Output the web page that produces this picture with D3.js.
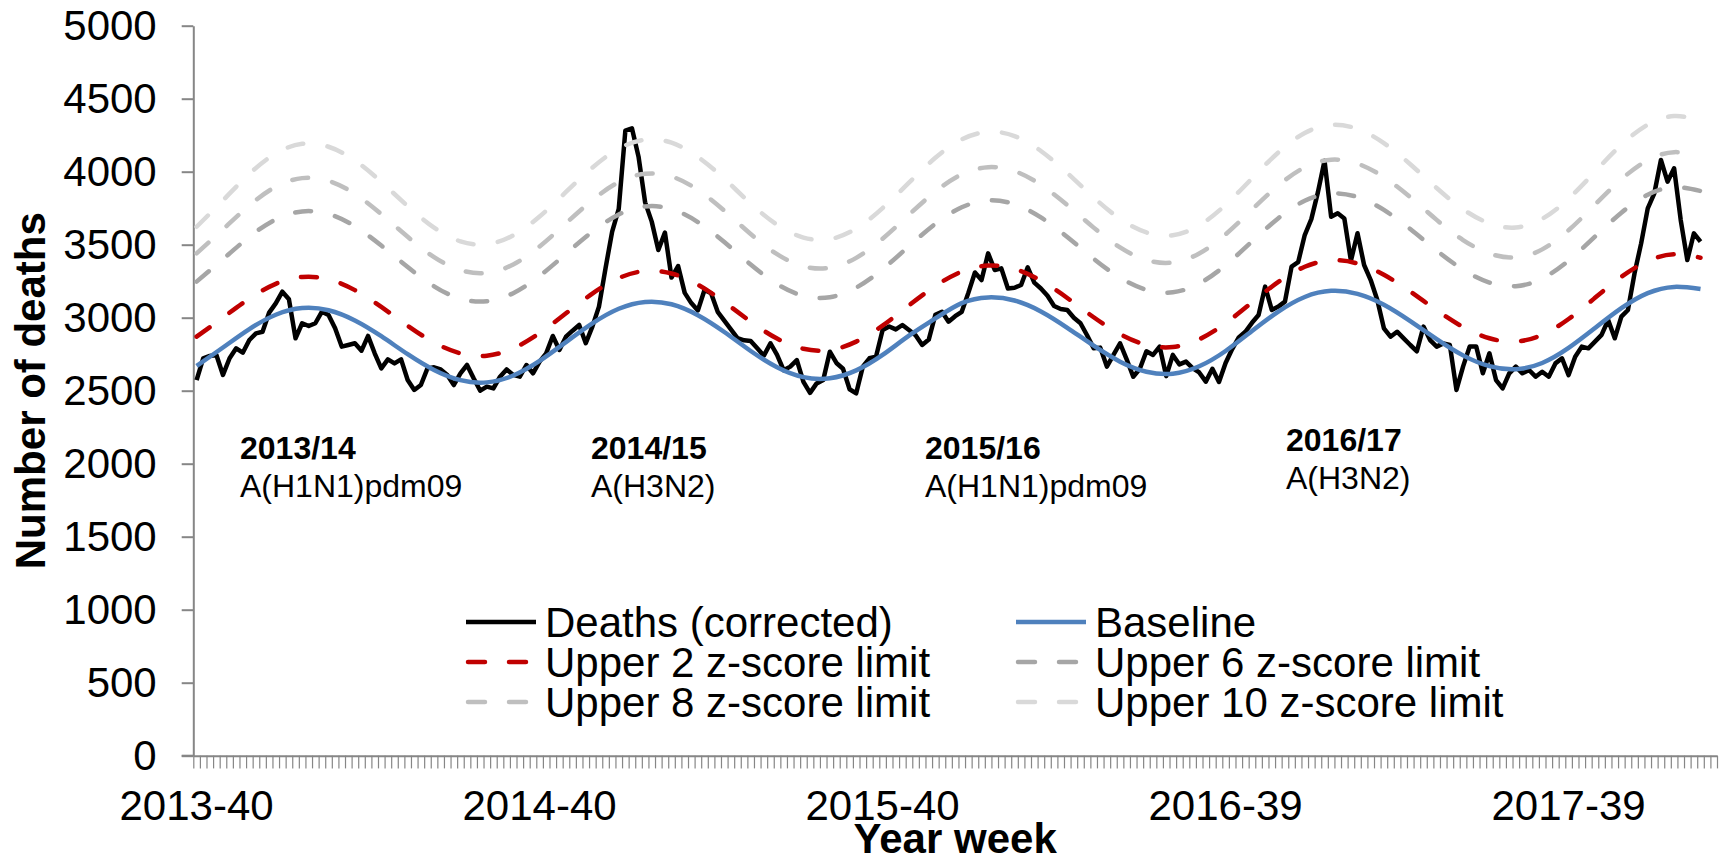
<!DOCTYPE html>
<html>
<head>
<meta charset="utf-8">
<script src="https://cdn.jsdelivr.net/npm/d3@7"></script>
<style>
  html, body { margin: 0; padding: 0; background: #fff; }
  svg { display: block; font-family: "Liberation Sans", Arial, sans-serif; }
</style>
</head>
<body>
<div class="root"></div>
<script>
// weekly deaths (corrected), first week = 2013-40
const deaths = [
  2573, 2722, 2738, 2745, 2608, 2722, 2790, 2760, 2847, 2893,
  2904, 3035, 3098, 3178, 3126, 2859, 2962, 2943, 2962, 3041,
  3018, 2927, 2802, 2813, 2825, 2774, 2875, 2756, 2653, 2715,
  2687, 2715, 2573, 2505, 2539, 2653, 2660, 2646, 2608, 2539,
  2619, 2676, 2585, 2500, 2528, 2516, 2596, 2646, 2608, 2596,
  2676, 2619, 2699, 2756, 2875, 2779, 2870, 2911, 2950, 2825,
  2939, 3076, 3340, 3590, 3745, 4281, 4297, 4103, 3790, 3658,
  3464, 3583, 3275, 3354, 3170, 3100, 3050, 3190, 3167, 3040,
  2980, 2920, 2860, 2845, 2840, 2790, 2740, 2825, 2745, 2640,
  2665, 2710, 2560, 2485, 2550, 2573, 2767, 2690, 2650, 2510,
  2482, 2665, 2722, 2733, 2916, 2940, 2920, 2950, 2916, 2880,
  2813, 2850, 3020, 3041, 2973, 3010, 3040, 3170, 3310, 3258,
  3441, 3327, 3338, 3200, 3205, 3224, 3345, 3240, 3200, 3150,
  3080, 3060, 3053, 3000, 2962, 2880, 2790, 2795, 2665, 2745,
  2825, 2715, 2596, 2650, 2770, 2745, 2802, 2600, 2745, 2680,
  2699, 2655, 2625, 2562, 2650, 2560, 2690, 2785, 2865, 2904,
  2965, 3018, 3213, 3053, 3076, 3110, 3350, 3380, 3566, 3675,
  3860, 4075, 3692, 3715, 3680, 3390, 3578, 3361, 3258, 3121,
  2927, 2870, 2904, 2859, 2813, 2770, 2939, 2847, 2802, 2824,
  2813, 2505, 2665, 2802, 2802, 2619, 2756, 2573, 2516, 2619,
  2665, 2619, 2642, 2596, 2630, 2596, 2687, 2722, 2607, 2733,
  2802, 2790, 2836, 2882, 2984, 2859, 3007, 3053, 3304, 3509,
  3749, 3852, 4080, 3932, 4023, 3669, 3395, 3578, 3521
];

// smooth series read every 4th week (week index 0, 4, 8, ... 228)
const smoothWeeks = d3.range(0, 229, 4);
const baseline = [
  2670, 2796, 2922, 3020, 3066, 3051, 2981, 2873, 2750, 2642,
  2572, 2557, 2604, 2704, 2833, 2961, 3061, 3108, 3092, 3017,
  2902, 2772, 2661, 2593, 2585, 2639, 2745, 2877, 2995, 3100,
  3139, 3118, 3043, 2931, 2808, 2699, 2630, 2616, 2667, 2772,
  2909, 3042, 3142, 3184, 3163, 3089, 2977, 2854, 2742, 2668,
  2647, 2690, 2793, 2929, 3065, 3168, 3211, 3196
];
const upper2 = [
  2870, 3001, 3131, 3232, 3279, 3263, 3189, 3074, 2945, 2830,
  2756, 2740, 2790, 2895, 3030, 3165, 3271, 3320, 3303, 3226,
  3107, 2973, 2857, 2787, 2779, 2836, 2946, 3084, 3217, 3316,
  3357, 3334, 3254, 3135, 3003, 2888, 2814, 2799, 2852, 2962,
  3105, 3245, 3349, 3393, 3371, 3294, 3179, 3051, 2936, 2859,
  2837, 2883, 2991, 3136, 3280, 3388, 3434, 3411
];
const upper6 = [
  3247, 3401, 3554, 3673, 3728, 3710, 3626, 3494, 3347, 3215,
  3130, 3113, 3168, 3286, 3438, 3589, 3707, 3762, 3744, 3655,
  3518, 3364, 3231, 3150, 3140, 3206, 3332, 3490, 3643, 3756,
  3803, 3777, 3687, 3553, 3404, 3274, 3191, 3174, 3234, 3360,
  3522, 3682, 3801, 3851, 3826, 3738, 3607, 3460, 3329, 3241,
  3216, 3268, 3391, 3555, 3719, 3842, 3894, 3868
];
const upper8 = [
  3441, 3605, 3769, 3897, 3956, 3937, 3848, 3709, 3554, 3415,
  3326, 3307, 3365, 3488, 3647, 3805, 3929, 3986, 3967, 3875,
  3733, 3573, 3435, 3352, 3342, 3410, 3541, 3705, 3864, 3982,
  4031, 4004, 3910, 3771, 3617, 3481, 3395, 3378, 3440, 3571,
  3740, 3906, 4030, 4082, 4055, 3963, 3825, 3670, 3532, 3440,
  3413, 3468, 3599, 3774, 3948, 4079, 4134, 4106
];
const upper10 = [
  3623, 3804, 3985, 4125, 4191, 4171, 4077, 3930, 3764, 3617,
  3523, 3503, 3564, 3693, 3861, 4028, 4158, 4219, 4199, 4101,
  3952, 3782, 3637, 3549, 3538, 3611, 3751, 3925, 4095, 4221,
  4273, 4244, 4142, 3991, 3824, 3677, 3584, 3565, 3632, 3773,
  3954, 4132, 4265, 4321, 4293, 4196, 4051, 3888, 3743, 3646,
  3618, 3677, 3815, 4000, 4184, 4322, 4381, 4351
];

const nWeeks = 231;
const tickWeeks = [0, 52, 104, 156, 208];
const tickLabels = ["2013-40", "2014-40", "2015-40", "2016-39", "2017-39"];
const yTicks = d3.range(0, 5001, 500);

const seasons = ["2013/14", "2014/15", "2015/16", "2016/17"];
const subtypes = ["A(H1N1)pdm09", "A(H3N2)", "A(H1N1)pdm09", "A(H3N2)"];

const seriesNames = [
  "Deaths (corrected)", "Baseline", "Upper 2 z-score limit",
  "Upper 6 z-score limit", "Upper 8 z-score limit", "Upper 10 z-score limit"
];

// layout
const width = 1720, height = 862;
const plotL = 193.3, plotR = 1717, plotT = 25.7, plotB = 755.7;
const axisColor = "#868686";
const lw = 4.5;
const dash = "16,24.5";

const svg = d3.select("div.root").append("svg")
  .attr("width", width).attr("height", height);

const x = d3.scaleLinear().domain([-0.5, nWeeks - 0.5]).range([plotL, plotR]);
const y = d3.scaleLinear().domain([0, 5000]).range([plotB, plotT]);

// y axis
const yAxis = svg.append("g")
  .attr("transform", `translate(${plotL},0)`)
  .call(d3.axisLeft(y).tickValues(yTicks).tickFormat(d3.format("d"))
    .tickSize(11.6).tickPadding(25).tickSizeOuter(0));
yAxis.select(".domain").attr("stroke", axisColor).attr("stroke-width", 2);
yAxis.selectAll(".tick line").attr("stroke", axisColor).attr("stroke-width", 2);
yAxis.selectAll(".tick text")
  .attr("fill", "#000").attr("font-size", 42)
  .attr("font-family", "Liberation Sans, Arial, sans-serif");

// x axis: a small tick at every week boundary
const bounds = d3.range(nWeeks + 1).map(i => i - 0.5);
const xAxis = svg.append("g")
  .attr("transform", `translate(0,${plotB})`)
  .call(d3.axisBottom(x).tickValues(bounds).tickSize(12.7).tickSizeOuter(0).tickFormat(""));
xAxis.select(".domain").attr("stroke", axisColor).attr("stroke-width", 2);
xAxis.selectAll(".tick line").attr("stroke", axisColor).attr("stroke-width", 1.2);
svg.append("line")
  .attr("x1", plotL - 11.6).attr("x2", plotL)
  .attr("y1", plotB).attr("y2", plotB)
  .attr("stroke", axisColor).attr("stroke-width", 2);

svg.append("g").selectAll("text")
  .data(tickWeeks)
  .join("text")
  .attr("x", d => x(d))
  .attr("y", 820)
  .attr("text-anchor", "middle")
  .attr("font-size", 42)
  .text((d, i) => tickLabels[i]);

// axis titles
svg.append("text")
  .attr("x", (plotL + plotR) / 2).attr("y", 853)
  .attr("text-anchor", "middle")
  .attr("font-size", 42).attr("font-weight", "bold")
  .text("Year week");
svg.append("text")
  .attr("transform", `translate(45,${(plotT + plotB) / 2}) rotate(-90)`)
  .attr("text-anchor", "middle")
  .attr("font-size", 42).attr("font-weight", "bold")
  .text("Number of deaths");

// season annotations
const annX = [240, 591, 925, 1286];
const annY = [459, 459, 459, 451];
const ann = svg.append("g").attr("font-size", 32);
ann.selectAll("text.season")
  .data(seasons)
  .join("text")
  .attr("class", "season")
  .attr("x", (d, i) => annX[i]).attr("y", (d, i) => annY[i])
  .attr("font-weight", "bold")
  .text(d => d);
ann.selectAll("text.subtype")
  .data(subtypes)
  .join("text")
  .attr("class", "subtype")
  .attr("x", (d, i) => annX[i]).attr("y", (d, i) => annY[i] + 38)
  .text(d => d);

// series
const rough = d3.line().x((d, i) => x(i)).y(d => y(d));
const smooth = d3.line()
  .x((d, i) => x(smoothWeeks[i])).y(d => y(d))
  .curve(d3.curveNatural);

const styles = [
  { color: "#000000", dash: null },
  { color: "#4f81bd", dash: null },
  { color: "#c00000", dash: dash },
  { color: "#a6a6a6", dash: dash },
  { color: "#bfbfbf", dash: dash },
  { color: "#d9d9d9", dash: dash }
];
const smoothSeries = [baseline, upper2, upper6, upper8, upper10];

const plot = svg.append("g").attr("fill", "none")
  .attr("stroke-width", lw).attr("stroke-linejoin", "round");

plot.append("path")
  .attr("d", rough(deaths))
  .attr("stroke", styles[0].color);

plot.selectAll("path.smooth")
  .data(smoothSeries)
  .join("path")
  .attr("class", "smooth")
  .attr("d", d => smooth(d))
  .attr("stroke", (d, i) => styles[i + 1].color)
  .attr("stroke-dasharray", (d, i) => styles[i + 1].dash)
  .attr("stroke-linecap", (d, i) => styles[i + 1].dash ? "round" : "butt");

// legend
const legX = [466, 1016];
const legY = [622, 662, 702];
const legend = svg.append("g");
seriesNames.forEach((name, i) => {
  const lx = legX[i % 2], ly = legY[Math.floor(i / 2)];
  const st = styles[i];
  legend.append("line")
    .attr("x1", st.dash ? lx + 2 : lx).attr("x2", lx + 70)
    .attr("y1", ly).attr("y2", ly)
    .attr("stroke", st.color).attr("stroke-width", lw)
    .attr("stroke-dasharray", st.dash ? "17,24" : null)
    .attr("stroke-linecap", st.dash ? "round" : "butt");
  legend.append("text")
    .attr("x", lx + 79).attr("y", ly)
    .attr("dy", "0.35em")
    .attr("font-size", 42)
    .text(name);
});
</script>
</body>
</html>
